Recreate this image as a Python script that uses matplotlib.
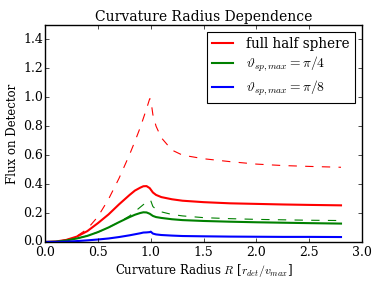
import matplotlib
matplotlib.use("Agg")
import matplotlib.pyplot as plt
import numpy as np

plt.style.use("classic")
plt.rcParams["font.family"] = "serif"
plt.rcParams["font.serif"] = ["DejaVu Serif"]
plt.rcParams["mathtext.fontset"] = "cm"
plt.rcParams["figure.facecolor"] = "white"
plt.rcParams["savefig.facecolor"] = "white"

# curvature radius R [r_det / v_max]
radius = [0.0, 0.1, 0.2, 0.3, 0.4, 0.5, 0.6, 0.7, 0.8, 0.85, 0.9, 0.93, 0.96,
          0.99, 1.0, 1.02, 1.05, 1.1, 1.2, 1.3, 1.5, 1.75, 2.0, 2.25, 2.5, 2.8]

full_solid = [0.0, 0.003, 0.014, 0.037, 0.075, 0.13, 0.19, 0.26, 0.325, 0.355, 0.375,
              0.385, 0.386, 0.372, 0.362, 0.342, 0.325, 0.31, 0.295, 0.285, 0.275,
              0.267, 0.263, 0.259, 0.256, 0.253]
full_dashed = [0.0, 0.003, 0.014, 0.04, 0.09, 0.175, 0.295, 0.44, 0.605, 0.695, 0.79,
               0.855, 0.92, 0.99, 0.985, 0.88, 0.80, 0.72, 0.635, 0.60, 0.575,
               0.555, 0.538, 0.528, 0.522, 0.516]
quarter_solid = [0.0, 0.002, 0.01, 0.024, 0.042, 0.068, 0.1, 0.137, 0.172, 0.188,
                 0.2, 0.205, 0.204, 0.195, 0.19, 0.18, 0.172, 0.166, 0.157, 0.151,
                 0.145, 0.14, 0.136, 0.133, 0.13, 0.127]
quarter_dashed = [0.0, 0.002, 0.01, 0.024, 0.042, 0.068, 0.1, 0.137, 0.18, 0.21,
                  0.24, 0.258, 0.275, 0.29, 0.285, 0.245, 0.225, 0.208, 0.19,
                  0.18, 0.168, 0.161, 0.156, 0.153, 0.15, 0.148]
eighth_solid = [0.0, 0.0005, 0.002, 0.006, 0.011, 0.017, 0.024, 0.034, 0.046, 0.053,
                0.06, 0.065, 0.066, 0.068, 0.071, 0.058, 0.052, 0.048, 0.044,
                0.041, 0.039, 0.037, 0.036, 0.035, 0.035, 0.034]

fig = plt.figure(figsize=(3.82, 2.86), dpi=100)
ax = fig.add_axes([0.118, 0.154, 0.830, 0.759])

ax.plot(radius, full_dashed, "r--", linewidth=0.8)
ax.plot(radius, quarter_dashed, "--", color=(0, 0.5, 0), linewidth=0.8)
ax.plot(radius, full_solid, "r-", linewidth=1.5, label="full half sphere")
ax.plot(radius, quarter_solid, "-", color=(0, 0.5, 0), linewidth=1.5,
        label=r"$\vartheta_{sp,max}=\pi/4$")
ax.plot(radius, eighth_solid, "b-", linewidth=1.5,
        label=r"$\vartheta_{sp,max}=\pi/8$")

ax.set_xlim(0, 3.0)
ax.set_ylim(0, 1.5)
ax.set_xticks(np.arange(0, 3.01, 0.5))
ax.set_yticks(np.arange(0, 1.41, 0.2))
ax.tick_params(labelsize=9, length=3)
ax.tick_params(axis="y", pad=1.5)
ax.tick_params(axis="x", pad=3)
ax.set_xlabel(r"Curvature Radius $R$ [$r_{det}/v_{max}$]", fontsize=8.5, labelpad=2)
ax.set_ylabel("Flux on Detector", fontsize=8.5, labelpad=3)
ax.set_title("Curvature Radius Dependence", fontsize=10, pad=3)

leg = ax.legend(loc="upper right", fontsize=9.75, borderaxespad=0.5,
                borderpad=0.4, handlelength=1.5, handletextpad=1.0,
                labelspacing=0.3, numpoints=1)
leg.get_frame().set_linewidth(0.8)

fig.savefig("out.png", dpi=100)
